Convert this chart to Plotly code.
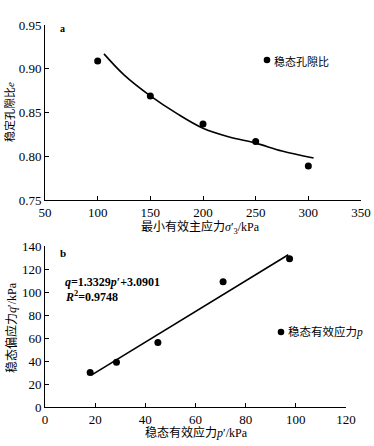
import plotly.graph_objects as go

# Panel a data
sigma3 = [100, 150, 200, 250, 300]
void_ratio = [0.909, 0.869, 0.837, 0.817, 0.789]
curve_x = [106, 125, 150, 175, 200, 225, 250, 275, 305]
curve_y = [0.917, 0.893, 0.869, 0.849, 0.832, 0.822, 0.815, 0.806, 0.798]

# Panel b data
p_eff = [18, 28.5, 45, 71, 97.5]
q_dev = [30, 39, 56, 109, 129]
fit_x = [18.5, 97]
fit_y = [27.7, 132.4]

a_xticks = [50, 100, 150, 200, 250, 300, 350]
a_yticks = [0.75, 0.80, 0.85, 0.90, 0.95]
b_xticks = [0, 20, 40, 60, 80, 100, 120]
b_yticks = [0, 20, 40, 60, 80, 100, 120, 140]

W, H = 374, 446
serif = "Liberation Serif"
cjk = "Liberation Serif, Noto Sans CJK SC"
tickfont = dict(family=serif, size=13, color="black")

fig = go.Figure()
fig.add_trace(go.Scatter(x=sigma3, y=void_ratio, mode="markers",
                         marker=dict(color="black", size=7), xaxis="x", yaxis="y", showlegend=False))
fig.add_trace(go.Scatter(x=curve_x, y=curve_y, mode="lines", line=dict(color="black", width=1.6, shape="spline"),
                         xaxis="x", yaxis="y", showlegend=False))
fig.add_trace(go.Scatter(x=p_eff, y=q_dev, mode="markers",
                         marker=dict(color="black", size=7), xaxis="x2", yaxis="y2", showlegend=False))
fig.add_trace(go.Scatter(x=fit_x, y=fit_y, mode="lines", line=dict(color="black", width=1.6),
                         xaxis="x2", yaxis="y2", showlegend=False))

def px2x(px):
    return px / W

def px2y(py):
    return 1 - py / H

axcommon = dict(showgrid=False, zeroline=False, showline=True, linecolor="black", linewidth=1,
                ticks="inside", ticklen=4, tickcolor="black", tickfont=tickfont, automargin=False)

fig.update_layout(
    width=W, height=H, margin=dict(l=0, r=0, t=0, b=0, autoexpand=False),
    paper_bgcolor="white", plot_bgcolor="white",
    xaxis=dict(domain=[px2x(45), px2x(361)], range=[50, 350], tickvals=a_xticks, anchor="y", **axcommon),
    yaxis=dict(domain=[px2y(200), px2y(25)], range=[0.75, 0.95], tickvals=a_yticks, tickformat=".2f", anchor="x", **axcommon),
    xaxis2=dict(domain=[px2x(45), px2x(346)], range=[0, 120], tickvals=b_xticks, anchor="y2", **axcommon),
    yaxis2=dict(domain=[px2y(407), px2y(246)], range=[0, 140], tickvals=b_yticks, anchor="x2", **axcommon),
)

# legend-like markers as paper-coordinate circles
def dot(cx, cy, r=3.3):
    fig.add_shape(type="circle", xref="paper", yref="paper",
                  x0=px2x(cx - r), x1=px2x(cx + r), y0=px2y(cy + r), y1=px2y(cy - r),
                  fillcolor="black", line=dict(color="black", width=0))

dot(267, 60)
dot(281, 332)

def ann(text, x, y, size=13, xanchor="left", yanchor="middle", angle=0, family=cjk):
    fig.add_annotation(text=text, x=px2x(x), y=px2y(y), xref="paper", yref="paper",
                       showarrow=False, xanchor=xanchor, yanchor=yanchor, textangle=angle,
                       font=dict(family=family, size=size, color="black"))

ann("稳态孔隙比", 272, 61, size=11)
ann("稳态有效应力<i>p</i>", 286, 332, size=11.5)
ann("<b>a</b>", 58, 29, size=10, family=serif)
ann("<b>b</b>", 58, 253, size=11, family=serif)
ann("<b><i>q</i>=1.3329<i>p</i>′+3.0901</b>", 63, 282, size=12, family=serif)
ann("<b><i>R</i><sup>2</sup>=0.9748</b>", 63, 296, size=12, family=serif)
ann("最小有效主应力<i>σ</i>′<sub>3</sub>/kPa", 200, 227, size=12, xanchor="center")
ann("稳态有效应力<i>p</i>′/kPa", 196, 432, size=12, xanchor="center")
ann("稳定孔隙比<i>e</i>", 9, 112, size=11, xanchor="center", angle=-90)
ann("稳态偏应力<i>q</i>′/kPa", 11, 328, size=12, xanchor="center", angle=-90)

fig.write_html("out.html", config={"displayModeBar": False},
               post_script="document.body.style.margin='0';document.body.style.padding='0';")
